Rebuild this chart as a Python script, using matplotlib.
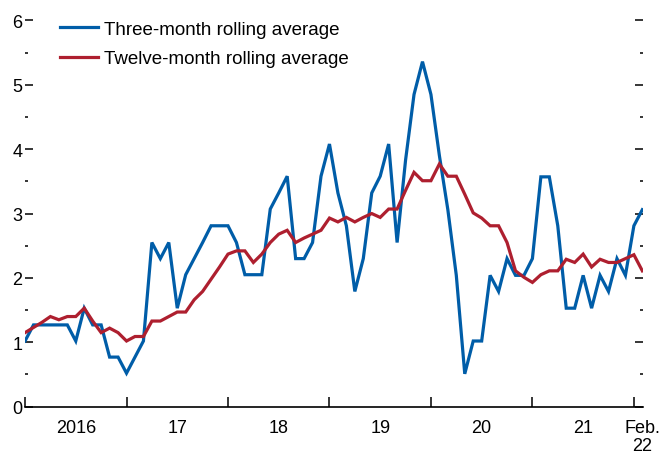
import numpy as np
import matplotlib
matplotlib.use("Agg")
import matplotlib.pyplot as plt
from matplotlib.ticker import MultipleLocator, FixedLocator

plt.rcParams['font.family'] = ['Liberation Sans', 'DejaVu Sans']

# Monthly data, Jan 2016 .. Feb 2022
three_month = [
    1.02, 1.27, 1.27, 1.27, 1.27, 1.27, 1.02, 1.53, 1.27, 1.27, 0.77, 0.77,
    0.52, 0.77, 1.02, 2.55, 2.30, 2.55, 1.53, 2.05, 2.30, 2.55, 2.81, 2.81,
    2.81, 2.55, 2.05, 2.05, 2.05, 3.07, 3.32, 3.58, 2.30, 2.30, 2.55, 3.58,
    4.08, 3.32, 2.81, 1.79, 2.30, 3.32, 3.58, 4.08, 2.55, 3.83, 4.85, 5.36,
    4.85, 3.90, 3.06, 2.04, 0.51, 1.02, 1.02, 2.04, 1.79, 2.30, 2.04, 2.04,
    2.30, 3.57, 3.57, 2.81, 1.53, 1.53, 2.04, 1.53, 2.04, 1.79, 2.30, 2.04,
    2.81, 3.06,
]
twelve_month = [
    1.15, 1.23, 1.31, 1.40, 1.35, 1.40, 1.40, 1.53, 1.33, 1.15, 1.22, 1.15,
    1.02, 1.09, 1.09, 1.33, 1.33, 1.40, 1.47, 1.47, 1.66, 1.79, 1.98, 2.17,
    2.37, 2.42, 2.42, 2.24, 2.37, 2.55, 2.68, 2.74, 2.55, 2.62, 2.68, 2.74,
    2.93, 2.87, 2.94, 2.87, 2.94, 3.00, 2.94, 3.07, 3.07, 3.36, 3.64, 3.51,
    3.51, 3.77, 3.58, 3.58, 3.30, 3.01, 2.93, 2.81, 2.81, 2.55, 2.11, 2.01,
    1.93, 2.05, 2.11, 2.11, 2.29, 2.24, 2.37, 2.17, 2.29, 2.24, 2.24, 2.30,
    2.36, 2.11,
]
year_labels = ["2016", "17", "18", "19", "20", "21"]
last_label = "Feb.\n22"

blue = "#005da8"
red = "#ae1f2f"

months = np.arange(len(three_month))

fig = plt.figure(figsize=(6.59, 4.56), dpi=100)
ax = fig.add_axes([0.038, 0.106, 0.938, 0.847])

ax.plot(months, three_month, color=blue, lw=2.3, label="Three-month rolling average",
        solid_joinstyle='miter')
ax.plot(months, twelve_month, color=red, lw=2.3, label="Twelve-month rolling average",
        solid_joinstyle='miter')

ax.set_xlim(0, 73.1)
ax.set_ylim(0, 6)

for s in ['left', 'right', 'top']:
    ax.spines[s].set_visible(False)
ax.spines['bottom'].set_linewidth(1.2)

# y axis
ax.yaxis.set_major_locator(MultipleLocator(1))
ax.yaxis.set_minor_locator(MultipleLocator(0.5))
ax.tick_params(axis='y', which='major', direction='in', length=6, width=1.1,
               left=True, right=True, labelsize=13, pad=2)
ax.tick_params(axis='y', which='minor', direction='in', length=2.5, width=1.1,
               left=True, right=True)

# x axis
ax.xaxis.set_major_locator(FixedLocator(np.arange(0, 73, 12)))
ax.xaxis.set_minor_locator(FixedLocator(list(np.arange(6, 67, 12)) + [73]))
ax.xaxis.set_minor_formatter(matplotlib.ticker.FixedFormatter(year_labels + [last_label]))
ax.xaxis.set_major_formatter(matplotlib.ticker.NullFormatter())
ax.tick_params(axis='x', which='major', direction='in', length=7, width=1.1)
ax.tick_params(axis='x', which='minor', length=0, labelsize=13, pad=9)
for lab in ax.xaxis.get_minorticklabels():
    lab.set_linespacing(1.1)

ax.legend(loc='upper left', bbox_to_anchor=(0.057, 0.999), frameon=False,
          fontsize=13.5, handlelength=2.0, handletextpad=0.32, labelspacing=0.66,
          borderaxespad=0, borderpad=0)

fig.savefig("out.png", dpi=100)
